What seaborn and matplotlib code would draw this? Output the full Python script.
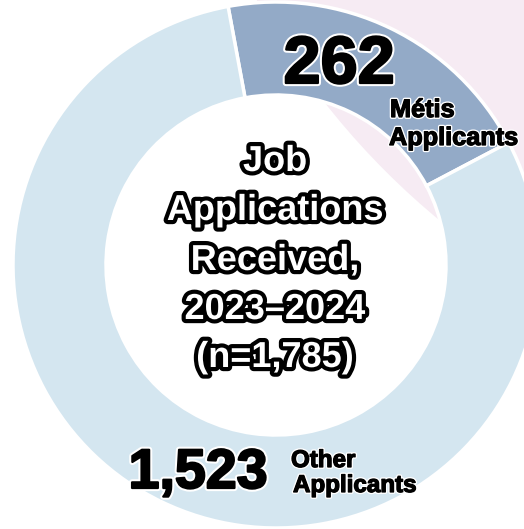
import matplotlib
matplotlib.use("Agg")
import matplotlib.pyplot as plt
import matplotlib.patheffects as pe
from matplotlib.patches import Circle
import seaborn as sns

# ---- data ----
categories = ["Métis", "Other"]
counts = [262, 1523]
count_labels = ["262", "1,523"]
# wedge sizes as they are drawn in the reference picture (percent of the ring)
slice_share_pct = [20.2, 79.8]
center_lines = ["Job", "Applications", "Received,", "2023\u20132024", "(n=1,785)"]
colors = ["#93AAC7", "#D4E6F0"]
pink = "#F6EBF3"

sns.set_theme(style="white")
plt.rcParams['font.family'] = ['Liberation Sans', 'DejaVu Sans']

W, H = 524, 529
CX, CY, R = 276, 265, 263.0   # pixel geometry of the ring


def P(px, py):
    """pixel position -> data position (ring centre = 0,0, radius = 1)"""
    return (px - CX) / R, (CY - py) / R


fig = plt.figure(figsize=(W / 100, H / 100), dpi=100)
fig.patch.set_facecolor("white")
ax = fig.add_axes([0, 0, 1, 1])

# pink decorative disc behind the ring (top right)
pc = P(928, -371)
ax.add_patch(Circle(pc, 767 / R, facecolor=pink, edgecolor="none", zorder=0))

ax.pie(slice_share_pct, colors=colors, startangle=100.5, counterclock=False,
       radius=1.0,
       wedgeprops=dict(width=1 - 170 / R, edgecolor="white", linewidth=2.5))

ax.set_xlim(-CX / R, (W - CX) / R)
ax.set_ylim((CY - H) / R, CY / R)
ax.set_aspect("equal", adjustable="box")
ax.axis("off")

halo_w = [pe.withStroke(linewidth=4.5, foreground="white"),
          pe.withStroke(linewidth=1.6, foreground="black")]
halo_s = [pe.withStroke(linewidth=2.8, foreground="white"),
          pe.withStroke(linewidth=0.9, foreground="black")]
outline = [pe.withStroke(linewidth=6, foreground="black")]

# Métis labels
ax.text(*P(339, 83), count_labels[0], ha="center", va="baseline",
        fontsize=48, fontweight="bold", color="black", path_effects=halo_w, zorder=5)
ax.text(*P(390, 117), "Métis", ha="left", va="baseline",
        fontsize=18.2, fontweight="bold", color="black", path_effects=halo_s, zorder=5)
ax.text(*P(389, 145), "Applicants", ha="left", va="baseline",
        fontsize=18.2, fontweight="bold", color="black", path_effects=halo_s, zorder=5)

# Other labels
ax.text(*P(198, 488), count_labels[1], ha="center", va="baseline",
        fontsize=40, fontweight="bold", color="black", path_effects=halo_w, zorder=5)
ax.text(*P(291, 467), "Other", ha="left", va="baseline",
        fontsize=17.4, fontweight="bold", color="black", path_effects=halo_s, zorder=5)
ax.text(*P(293, 492), "Applicants", ha="left", va="baseline",
        fontsize=17.4, fontweight="bold", color="black", path_effects=halo_s, zorder=5)

# centre title
baselines = [171, 220, 270, 319, 367]
for line, by in zip(center_lines, baselines):
    ax.text(*P(275, by), line, ha="center", va="baseline", fontsize=26,
            fontweight="bold", color="white", path_effects=outline, zorder=5)

fig.savefig("out.png", dpi=100, facecolor="white")
